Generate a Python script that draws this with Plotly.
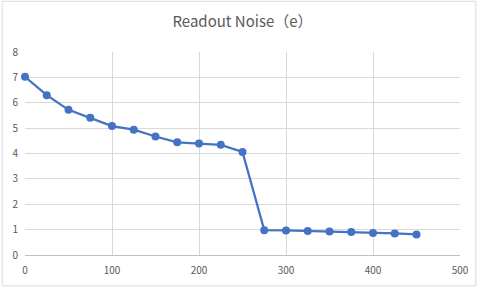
import plotly.graph_objects as go

x_vals = [0, 25, 50, 75, 100, 125, 150, 175, 200, 225, 250, 275, 300, 325, 350, 375, 400, 425, 450]
noise = [7.02, 6.30, 5.72, 5.41, 5.08, 4.94, 4.67, 4.44, 4.39, 4.34, 4.06, 0.98, 0.97, 0.95, 0.93, 0.91, 0.87, 0.85, 0.81]
title_text = "Readout Noise（e）"

W, H = 481, 289
L, R, T, B = 24, 18, 52, 33
pw, ph = W - L - R, H - T - B

fig = go.Figure()
fig.add_trace(go.Scatter(
    x=x_vals, y=noise, mode="lines+markers",
    line=dict(color="#4472C4", width=2.25),
    marker=dict(color="#4472C4", size=8),
    cliponaxis=False,
    showlegend=False,
))

def px_to_paper_x(p):
    return (p - L) / pw

def px_to_paper_y(p):
    return (H - B - p) / ph

fig.update_layout(
    width=W, height=H,
    margin=dict(l=L, r=R, t=T, b=B),
    paper_bgcolor="white", plot_bgcolor="white",
    font=dict(family="Noto Sans CJK SC, Noto Sans, sans-serif", color="#595959", size=10),
    title=dict(text=title_text, x=0.5, xref="paper", xanchor="center",
               y=1 - 22 / H, yanchor="middle",
               font=dict(size=15, color="#595959")),
    xaxis=dict(range=[0, 500], tickvals=[0, 100, 200, 300, 400, 500],
               showgrid=True, gridcolor="#D9D9D9", gridwidth=1,
               showline=True, linecolor="#BFBFBF", linewidth=1,
               zeroline=False, ticks="", ticklabelstandoff=6,
               tickfont=dict(size=10, color="#595959")),
    yaxis=dict(range=[0, 8], tickvals=list(range(0, 9)),
               showgrid=True, gridcolor="#D9D9D9", gridwidth=1,
               showline=False, zeroline=False, ticks="", ticklabelstandoff=6,
               tickfont=dict(size=10, color="#595959")),
    shapes=[dict(type="rect", xref="paper", yref="paper",
                 x0=px_to_paper_x(1), x1=px_to_paper_x(479),
                 y0=px_to_paper_y(287), y1=px_to_paper_y(1),
                 line=dict(color="#D9D9D9", width=1), fillcolor="rgba(0,0,0,0)", layer="below")],
)

fig.write_html("out.html")
